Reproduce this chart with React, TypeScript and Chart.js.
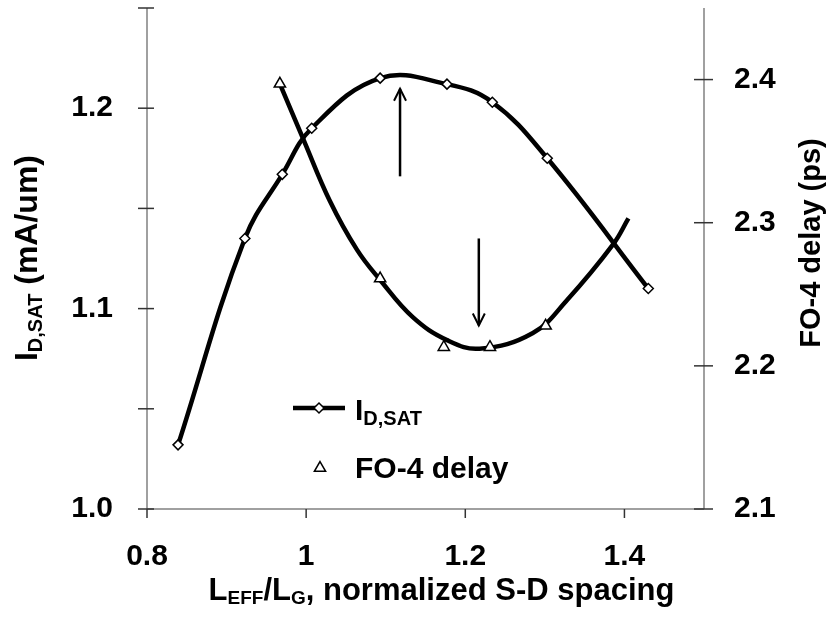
import React, { useEffect, useRef } from "react";
import { Chart, registerables } from "chart.js";

Chart.register(...registerables);

// ---- data ----
const idsatX = [0.839, 0.923, 0.970, 1.007, 1.093, 1.177, 1.234, 1.303, 1.430];
const idsatY = [1.032, 1.135, 1.167, 1.190, 1.215, 1.212, 1.203, 1.175, 1.110];

const fo4X = [0.967, 1.093, 1.173, 1.231, 1.301];
const fo4Y = [2.397, 2.261, 2.213, 2.213, 2.228];

// FO-4 delay fitted trend curve
const fo4TrendX = [0.967, 0.996, 1.030, 1.064, 1.093, 1.134, 1.177, 1.218, 1.285, 1.328, 1.386, 1.405];
const fo4TrendY = [2.397, 2.359, 2.315, 2.281, 2.260, 2.234, 2.218, 2.212, 2.223, 2.246, 2.285, 2.303];

// axes
const xTickLabels = [0.8, 1, 1.2, 1.4];
const xTickMarks = [0.8, 1, 1.2, 1.4];
const leftTickLabels = [1.0, 1.1, 1.2];
const leftTickMarks = [1.0, 1.05, 1.1, 1.15, 1.2, 1.25];
const rightTickLabels = [2.1, 2.2, 2.3, 2.4];
const rightTickMarks = [2.1, 2.2, 2.3, 2.4];

// annotation arrows: [x, yFrom, yTo] on the left axis
const arrowUp = [1.118, 1.166, 1.2097];
const arrowDown = [1.217, 1.135, 1.0916];

const FONT = "'Liberation Sans', Arial, Helvetica, sans-serif";

type Part = { t: string; size: number; dy: number };

function richWidth(ctx: CanvasRenderingContext2D, parts: Part[]) {
  let w = 0;
  for (const p of parts) {
    ctx.font = `bold ${p.size}px ${FONT}`;
    w += ctx.measureText(p.t).width;
  }
  return w;
}

function drawRich(ctx: CanvasRenderingContext2D, parts: Part[], x: number, y: number) {
  let cx = x;
  ctx.textBaseline = "alphabetic";
  ctx.textAlign = "left";
  for (const p of parts) {
    ctx.font = `bold ${p.size}px ${FONT}`;
    ctx.fillText(p.t, cx, y + p.dy);
    cx += ctx.measureText(p.t).width;
  }
}

const zeroPad = (s: any) => {
  s.paddingTop = 0;
  s.paddingBottom = 0;
  s.paddingLeft = 0;
  s.paddingRight = 0;
};

const decorPlugin = {
  id: "decor",
  beforeDatasetsDraw(chart: any) {
    const { ctx, chartArea: a, scales } = chart;
    const line = (x1: number, y1: number, x2: number, y2: number) => {
      ctx.beginPath();
      ctx.moveTo(x1, y1);
      ctx.lineTo(x2, y2);
      ctx.stroke();
    };
    ctx.save();
    ctx.strokeStyle = "#808080";
    ctx.lineWidth = 1.5;
    line(a.left, a.top, a.left, a.bottom);
    line(a.left, a.bottom, a.right, a.bottom);
    line(a.right, a.top, a.right, a.bottom);
    ctx.strokeStyle = "#333";
    ctx.lineWidth = 1.5;
    leftTickMarks.forEach((v) => {
      const y = scales.y.getPixelForValue(v);
      line(a.left - 9, y, a.left + 7, y);
    });
    rightTickMarks.forEach((v) => {
      const y = scales.y1.getPixelForValue(v);
      line(a.right - 10, y, a.right + 9, y);
    });
    xTickMarks.forEach((v) => {
      const x = scales.x.getPixelForValue(v);
      line(x, a.bottom, x, a.bottom + 9);
    });
    ctx.restore();
  },
  afterDatasetsDraw(chart: any) {
    const { ctx, chartArea: a, scales } = chart;
    ctx.save();
    ctx.fillStyle = "#000";
    ctx.strokeStyle = "#000";

    // arrows
    const drawArrow = (spec: number[]) => {
      const x = scales.x.getPixelForValue(spec[0]);
      const y0 = scales.y.getPixelForValue(spec[1]);
      const y1 = scales.y.getPixelForValue(spec[2]);
      const dir = y1 < y0 ? 1 : -1;
      ctx.lineWidth = 2.5;
      ctx.beginPath();
      ctx.moveTo(x, y0);
      ctx.lineTo(x, y1);
      ctx.stroke();
      ctx.lineWidth = 2;
      ctx.beginPath();
      ctx.moveTo(x - 6, y1 + dir * 12);
      ctx.lineTo(x, y1);
      ctx.lineTo(x + 6, y1 + dir * 12);
      ctx.stroke();
    };
    drawArrow(arrowUp);
    drawArrow(arrowDown);

    // legend
    const lx = a.left + 146;
    const ly1 = 408;
    ctx.lineWidth = 4.5;
    ctx.beginPath();
    ctx.moveTo(lx, ly1);
    ctx.lineTo(lx + 52, ly1);
    ctx.stroke();
    ctx.lineWidth = 1.5;
    ctx.fillStyle = "#fff";
    ctx.beginPath();
    const dx = lx + 26;
    ctx.moveTo(dx - 5, ly1);
    ctx.lineTo(dx, ly1 - 5);
    ctx.lineTo(dx + 5, ly1);
    ctx.lineTo(dx, ly1 + 5);
    ctx.closePath();
    ctx.fill();
    ctx.stroke();
    ctx.fillStyle = "#000";
    drawRich(ctx, [
      { t: "I", size: 30, dy: 0 },
      { t: "D,SAT", size: 20, dy: 5 },
    ], lx + 62, ly1 + 12);

    const ly2 = 468;
    const tx = lx + 27;
    const r = 6.5;
    ctx.fillStyle = "#fff";
    ctx.lineWidth = 1.5;
    ctx.beginPath();
    ctx.moveTo(tx, ly2 - r);
    ctx.lineTo(tx + r * 0.866, ly2 + r * 0.5);
    ctx.lineTo(tx - r * 0.866, ly2 + r * 0.5);
    ctx.closePath();
    ctx.fill();
    ctx.stroke();
    ctx.fillStyle = "#000";
    drawRich(ctx, [{ t: "FO-4 delay", size: 30, dy: 0 }], lx + 62, ly2 + 10);

    ctx.restore();
  },
  afterDraw(chart: any) {
    const { ctx } = chart;
    ctx.save();
    ctx.fillStyle = "#000";

    // x title
    const xParts: Part[] = [
      { t: "L", size: 31, dy: 0 },
      { t: "EFF", size: 19, dy: 4 },
      { t: "/L", size: 31, dy: 0 },
      { t: "G", size: 19, dy: 4 },
      { t: ", normalized S-D spacing", size: 31, dy: 0 },
    ];
    const xw = richWidth(ctx, xParts);
    drawRich(ctx, xParts, 441.5 - xw / 2, 600);

    // left title
    const lParts: Part[] = [
      { t: "I", size: 32, dy: 0 },
      { t: "D,SAT", size: 20, dy: 5 },
      { t: " (mA/um)", size: 32, dy: 0 },
    ];
    const lw = richWidth(ctx, lParts);
    ctx.save();
    ctx.translate(37, 258);
    ctx.rotate(-Math.PI / 2);
    drawRich(ctx, lParts, -lw / 2, 0);
    ctx.restore();

    // right title
    const rParts: Part[] = [{ t: "FO-4 delay (ps)", size: 29, dy: 0 }];
    const rw = richWidth(ctx, rParts);
    ctx.save();
    ctx.translate(820, 243);
    ctx.rotate(-Math.PI / 2);
    drawRich(ctx, rParts, -rw / 2, 0);
    ctx.restore();

    ctx.restore();
  },
};

const tickFont = { family: FONT, size: 30, weight: "bold" as const };

export default function App() {
  const ref = useRef<HTMLCanvasElement | null>(null);

  useEffect(() => {
    if (!ref.current) return;
    const chart = new Chart(ref.current, {
      type: "scatter",
      data: {
        datasets: [
          {
            label: "FO-4 delay",
            data: fo4X.map((x, i) => ({ x, y: fo4Y[i] })),
            yAxisID: "y1",
            showLine: false,
            pointStyle: "triangle",
            pointRadius: 6.5,
            pointBackgroundColor: "#fff",
            pointBorderColor: "#000",
            pointBorderWidth: 1.5,
          },
          {
            label: "ID,SAT",
            data: idsatX.map((x, i) => ({ x, y: idsatY[i] })),
            yAxisID: "y",
            showLine: true,
            borderColor: "#000",
            borderWidth: 4.5,
            tension: 0.4,
            fill: false,
            pointStyle: "rectRot",
            pointRadius: 5,
            pointBackgroundColor: "#fff",
            pointBorderColor: "#000",
            pointBorderWidth: 1.5,
          },
          {
            label: "FO-4 trend",
            data: fo4TrendX.map((x, i) => ({ x, y: fo4TrendY[i] })),
            yAxisID: "y1",
            showLine: true,
            borderColor: "#000",
            borderWidth: 4.5,
            tension: 0.4,
            fill: false,
            pointRadius: 0,
          },
        ],
      },
      options: {
        responsive: false,
        animation: false,
        events: [],
        layout: { padding: { top: 7, left: 0, right: 0, bottom: 0 } },
        plugins: { legend: { display: false }, tooltip: { enabled: false } },
        scales: {
          x: {
            type: "linear",
            min: 0.8,
            max: 1.5,
            grid: { display: false },
            border: { display: false },
            afterBuildTicks: (s: any) => {
              s.ticks = xTickLabels.map((v) => ({ value: v }));
            },
            afterFit: (s: any) => {
              s.height = 132;
              zeroPad(s);
            },
            ticks: {
              font: tickFont,
              color: "#000",
              padding: 22,
              autoSkip: false,
              maxRotation: 0,
              callback: (v: any) => String(Number(v)),
            },
          },
          y: {
            type: "linear",
            position: "left",
            min: 1.0,
            max: 1.25,
            grid: { display: false },
            border: { display: false },
            afterBuildTicks: (s: any) => {
              s.ticks = leftTickLabels.map((v) => ({ value: v }));
            },
            afterFit: (s: any) => {
              s.width = 147;
              zeroPad(s);
            },
            ticks: {
              font: tickFont,
              color: "#000",
              padding: 26,
              autoSkip: false,
              callback: (v: any) => Number(v).toFixed(1),
            },
          },
          y1: {
            type: "linear",
            position: "right",
            min: 2.1,
            max: 2.45,
            grid: { display: false },
            border: { display: false },
            afterBuildTicks: (s: any) => {
              s.ticks = rightTickLabels.map((v) => ({ value: v }));
            },
            afterFit: (s: any) => {
              s.width = 125;
              zeroPad(s);
            },
            ticks: {
              font: tickFont,
              color: "#000",
              padding: 22,
              autoSkip: false,
              callback: (v: any) => Number(v).toFixed(1),
            },
          },
        },
      },
      plugins: [decorPlugin],
    });
    return () => chart.destroy();
  }, []);

  return (
    <div style={{ position: "absolute", left: 0, top: 0, width: 829, height: 641, background: "#fff" }}>
      <canvas ref={ref} width={829} height={641} style={{ display: "block" }} />
    </div>
  );
}
